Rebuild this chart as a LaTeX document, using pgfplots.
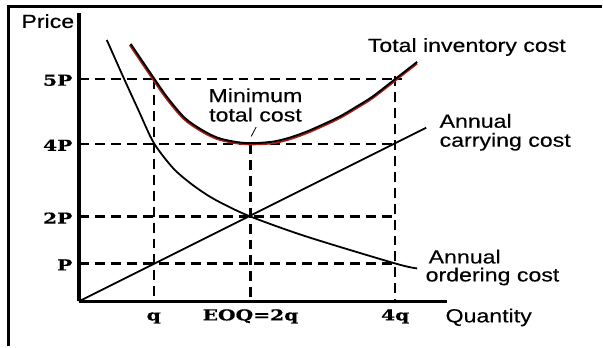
\documentclass[border=0pt]{standalone}
\usepackage{pgfplots}
\pgfplotsset{compat=1.18}
\usepackage{fontspec}
\setmainfont{Liberation Sans}
\newfontfamily\lab[FakeStretch=1.22, FakeBold=0.3]{Liberation Sans}
\newfontfamily\tck[FakeStretch=1.35, FakeBold=0.5]{DejaVu Serif}
\begin{document}
\begin{tikzpicture}
\begin{axis}[
  scale only axis, width=369pt, height=289pt,
  xmin=0, xmax=369, ymin=0, ymax=289,
  axis lines=left,
  axis line style={-, line width=3.5pt},
  clip=false,
  xtick={75,172,317}, xticklabels={q,EOQ=2q,4q},
  ytick={38,85,158,223}, yticklabels={P,2P,4P,5P},
  major tick length=0pt,
  tick label style={font=\tck\bfseries\fontsize{15}{15}\selectfont},
  xticklabel style={text height=11pt, text depth=3pt, yshift=-4.5pt},
  yticklabel style={xshift=-3pt, yshift=-1.5pt},
  dashline/.style={no marks, black, line width=2.2pt, dash pattern=on 10pt off 6pt},
  curve/.style={no marks, black, line width=1.8pt},
]
% dashed guide lines
\addplot[dashline] coordinates {(0,223) (324,223)};
\addplot[dashline] coordinates {(0,158) (318,158)};
\addplot[dashline] coordinates {(0,85) (318,85)};
\addplot[dashline] coordinates {(0,38) (318,38)};
\addplot[dashline] coordinates {(75,223) (75,0)};
\addplot[dashline] coordinates {(172,158) (172,0)};
\addplot[dashline] coordinates {(317,226) (317,0)};
% annual carrying cost
\addplot[curve] coordinates {(0,0) (348,174)};
% annual ordering cost
\addplot[curve, smooth] coordinates {
 (28,262) (44,226) (60,191) (75,159) (94,134) (111,119) (128,107) (144,98) (172,85) (228,65) (317,38) (339,33)};
% total inventory cost (red shadow + black)
\addplot[no marks, color={rgb,255:red,170;green,30;blue,20}, line width=1.8pt, smooth] coordinates {
 (51,256.8) (74,222.8) (88,202.8) (105,182.8) (122,170.8) (138,162.8) (155,158.8) (171,157.3)
 (194,158.3) (211,162.3) (228,168.3) (244,175.3) (261,183.3) (278,193.3) (294,203.3) (316,220.3) (339,238.3)};
\addplot[no marks, black, line width=1.9pt, smooth] coordinates {
 (52,258) (75,224) (89,204) (106,184) (123,172) (139,164) (156,160) (172,158.5)
 (194,160) (211,164) (228,170) (244,177) (261,185) (278,195) (294,205) (316,222) (339,240)};
% leader line
\draw[line width=0.8pt] (axis cs:177.7,174.7) -- (axis cs:172.7,165.3);
% labels
\node[anchor=base west, font=\lab\fontsize{19}{19}\selectfont] at (axis cs:-61,274) {Price};
\node[anchor=base west, font=\lab\fontsize{19}{19}\selectfont] at (axis cs:364,-21) {Quantity};
\node[anchor=base west, font=\lab\fontsize{19}{19}\selectfont] at (axis cs:286,250) {Total inventory cost};
\node[anchor=base, font=\lab\fontsize{19}{19}\selectfont] at (axis cs:177,199.7) {Minimum};
\node[anchor=base, font=\lab\fontsize{19}{19}\selectfont] at (axis cs:177,180.3) {total cost};
\node[anchor=base west, font=\lab\fontsize{19}{19}\selectfont] at (axis cs:358,174) {Annual};
\node[anchor=base west, font=\lab\fontsize{19}{19}\selectfont] at (axis cs:358,155) {carrying cost};
\node[anchor=base west, font=\lab\fontsize{19}{19}\selectfont] at (axis cs:347,38) {Annual};
\node[anchor=base west, font=\lab\fontsize{19}{19}\selectfont] at (axis cs:344,20) {ordering cost};
% frame and page size
\draw[line width=2.5pt] (axis cs:-70.5,-45) -- (axis cs:-70.5,296.5);
\draw[line width=2.5pt] (axis cs:-71.75,295.5) -- (axis cs:524,295.5);
\path (axis cs:-79,-45) rectangle (axis cs:524,302);
\end{axis}
\end{tikzpicture}
\end{document}
